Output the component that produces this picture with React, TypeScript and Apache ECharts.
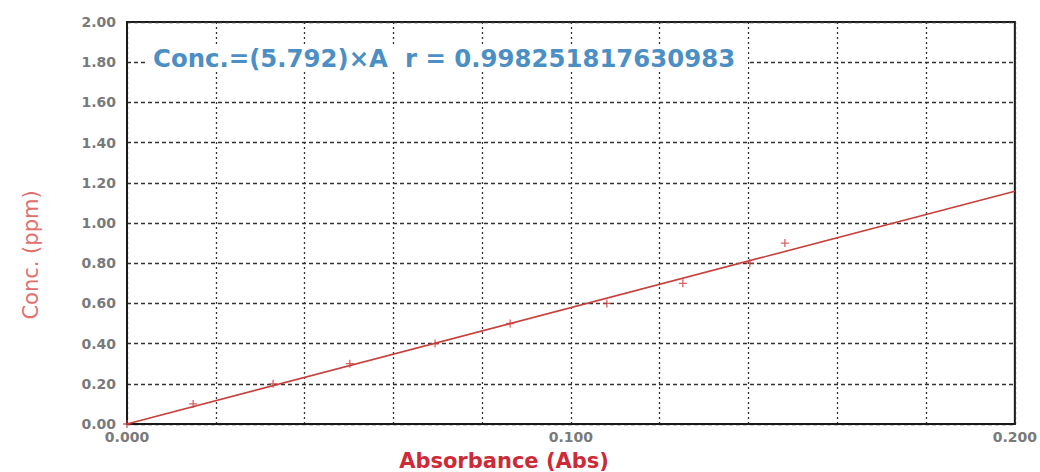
import React, { useEffect, useRef } from "react";
import * as echarts from "echarts";

const absorbance = [0, 0.0149, 0.0329, 0.0502, 0.0694, 0.0863, 0.1081, 0.1252, 0.1403, 0.1482];
const concentration = [0, 0.1, 0.2, 0.3, 0.4, 0.5, 0.6, 0.7, 0.8, 0.9];
const slope = 5.792;
const rValue = "0.998251817630983";
const xMin = 0;
const xMax = 0.2;
const xLabelValues = [0, 0.1, 0.2];
const yMin = 0;
const yMax = 2;

export default function App() {
  const ref = useRef<HTMLDivElement>(null);
  useEffect(() => {
    const chart = echarts.init(ref.current!, null, { renderer: "svg" });
    const points = absorbance.map((a, i) => [a, concentration[i]]);
    const fit = [
      [xMin, slope * xMin],
      [xMax, slope * xMax],
    ];
    chart.setOption({
      animation: false,
      backgroundColor: "#ffffff",
      grid: {
        left: 127,
        right: 25,
        top: 22,
        bottom: 48,
        show: true,
        borderColor: "#1a1a1a",
        borderWidth: 2,
        backgroundColor: "transparent",
      },
      xAxis: {
        type: "value",
        min: xMin,
        max: xMax,
        interval: 0.02,
        axisLine: { show: true, lineStyle: { color: "#1a1a1a", width: 2 } },
        axisTick: { show: false },
        axisLabel: {
          margin: 6,
          color: "#7a7a7a",
          fontFamily: "DejaVu Sans",
          fontWeight: "bold",
          fontSize: 14,
          formatter: (v: number) =>
            xLabelValues.some((t) => Math.abs(t - v) < 1e-9) ? v.toFixed(3) : "",
        },
        splitLine: {
          show: true,
          lineStyle: { color: "#333", type: [2, 3], width: 1.3 },
        },
      },
      yAxis: {
        type: "value",
        min: yMin,
        max: yMax,
        interval: 0.2,
        axisLine: { show: true, lineStyle: { color: "#1a1a1a", width: 2 } },
        axisTick: { show: false },
        axisLabel: {
          margin: 11,
          color: "#7a7a7a",
          fontFamily: "DejaVu Sans",
          fontWeight: "bold",
          fontSize: 14,
          formatter: (v: number) => v.toFixed(2),
        },
        splitLine: {
          show: true,
          lineStyle: { color: "#333", type: [4, 3], width: 1.3 },
        },
      },
      series: [
        {
          type: "line",
          data: fit,
          showSymbol: false,
          lineStyle: { color: "#c8403c", width: 1.6 },
          z: 3,
        },
        {
          type: "scatter",
          data: points,
          symbol: "path://M5,0 L5,10 M0,5 L10,5",
          symbolSize: 8,
          itemStyle: { color: "none", borderColor: "#d03a3a", borderWidth: 1.3 },
          z: 4,
        },
      ],
      graphic: [
        {
          type: "rect",
          shape: { x: 145, y: 44, width: 603, height: 28 },
          style: { fill: "#ffffff" },
          z: 10,
        },
        {
          type: "text",
          x: 153,
          y: 58,
          style: {
            text: `Conc.=(${slope.toFixed(3)})×A  r = ${rValue}`,
            fill: "#4b8fc4",
            font: "bold 24.4px 'DejaVu Sans'",
            textVerticalAlign: "middle",
          },
          z: 11,
        },
        {
          type: "text",
          x: 31,
          y: 255,
          rotation: Math.PI / 2,
          style: {
            text: "Conc. (ppm)",
            fill: "#e07070",
            font: "21px 'DejaVu Sans'",
            textAlign: "center",
            textVerticalAlign: "middle",
          },
          z: 11,
        },
        {
          type: "text",
          x: 504,
          y: 461,
          style: {
            text: "Absorbance (Abs)",
            fill: "#cc2a36",
            font: "bold 21px 'DejaVu Sans'",
            textAlign: "center",
            textVerticalAlign: "middle",
          },
          z: 11,
        },
      ],
    });
    return () => chart.dispose();
  }, []);
  return (
    <div
      ref={ref}
      style={{ position: "fixed", left: 0, top: 0, width: 1040, height: 472 }}
    />
  );
}
